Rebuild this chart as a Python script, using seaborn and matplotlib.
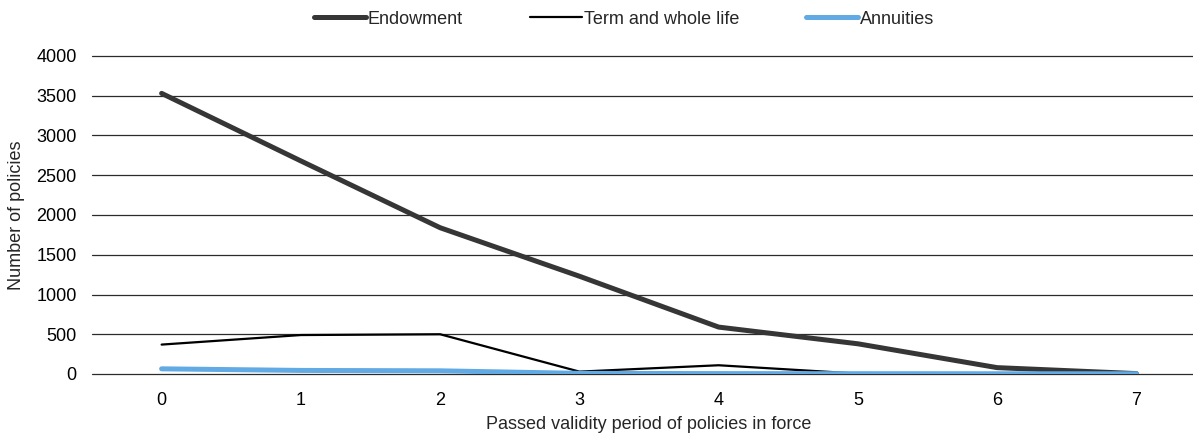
import pandas as pd
import seaborn as sns
import matplotlib.pyplot as plt

# data
years = [0, 1, 2, 3, 4, 5, 6, 7]
endowment = [3530, 2680, 1840, 1230, 590, 380, 80, 5]
term_whole_life = [370, 490, 500, 30, 110, 5, 2, 0]
annuities = [65, 45, 40, 8, 5, 4, 3, 3]

series = ['Endowment', 'Term and whole life', 'Annuities']
colors = ['#363636', '#000000', '#62aae3']
widths = [3.6, 1.6, 3.6]

df = pd.DataFrame({
    'year': years * 3,
    'value': endowment + term_whole_life + annuities,
    'type': [series[0]] * 8 + [series[1]] * 8 + [series[2]] * 8,
})

sns.set_style('white')
plt.rcParams['font.family'] = ['Liberation Sans', 'DejaVu Sans']
fs = 13

fig = plt.figure(figsize=(11.93, 4.34), dpi=100)
ax = fig.add_axes([92 / 1193, 60 / 434, 1114 / 1193, 318 / 434])

sns.lineplot(data=df, x='year', y='value', hue='type', hue_order=series,
             palette=colors, ax=ax, legend=False)
for line, w in zip(ax.get_lines(), widths):
    line.set_linewidth(w)
    line.set_solid_capstyle('round')
    line.set_solid_joinstyle('round')

ax.set_xlim(-0.5, 7.5)
ax.set_ylim(0, 4000)
ax.set_yticks(range(0, 4001, 500))
ax.set_xticks(years)
ax.yaxis.grid(True, color='#2b2b2b', linewidth=0.9)
for gl in ax.get_ygridlines():
    gl.set_clip_on(False)
ax.set_axisbelow(True)
for s in ax.spines.values():
    s.set_visible(False)
ax.tick_params(axis='both', length=0, labelsize=fs, colors='black')
ax.tick_params(axis='x', pad=13)
ax.tick_params(axis='y', pad=11)
ax.set_xlabel('Passed validity period of policies in force', fontsize=fs, labelpad=5)
ax.set_ylabel('Number of policies', fontsize=fs, labelpad=8)

handles = [plt.Line2D([], [], color=c, lw=w, solid_capstyle='round')
           for c, w in zip(colors, widths)]
fig.legend(handles, series, loc='center', bbox_to_anchor=(0.523, 0.956),
           ncol=3, frameon=False, fontsize=fs, handlelength=2.9,
           handletextpad=0.1, columnspacing=3.7, borderpad=0)

fig.savefig('out.png', dpi=100)
